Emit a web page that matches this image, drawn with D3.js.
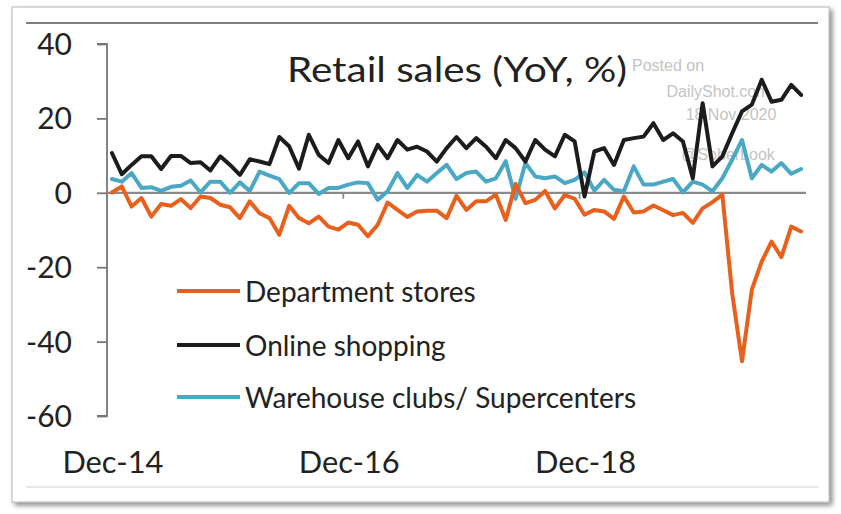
<!DOCTYPE html>
<html>
<head>
<meta charset="utf-8">
<script src="https://cdn.jsdelivr.net/npm/d3@7"></script>
<style>
  html, body { margin: 0; padding: 0; background: #ffffff; }
  svg { display: block; }
  text { font-family: Lato, "Open Sans", "DejaVu Sans", sans-serif; }
</style>
</head>
<body>
<svg id="chart" width="841" height="514"></svg>
<script>
// ---- data (monthly, Dec-14 .. Oct-20) ----
const monthNames = ["Jan","Feb","Mar","Apr","May","Jun","Jul","Aug","Sep","Oct","Nov","Dec"];
const months = [];
for (let k = 0; k < 71; k++) {
  const m = (11 + k) % 12, yr = 14 + Math.floor((11 + k) / 12);
  months.push(monthNames[m] + "-" + yr);
}
const departmentStores = [
  0.1, 1.7, -3.7, -1.4, -6.4, -3.0, -3.5, -1.7, -4.1, -1.0,
  -1.4, -3.2, -3.9, -6.8, -2.3, -5.5, -6.8, -11.3, -3.5, -6.8,
  -8.2, -6.4, -9.1, -9.9, -8.0, -8.6, -11.7, -8.6, -2.6, -4.6,
  -6.5, -5.0, -4.8, -4.8, -6.8, -0.8, -4.6, -2.3, -2.3, -0.5,
  -7.3, 2.4, -2.8, -1.9, 0.5, -4.2, -0.6, -1.6, -5.9, -4.6,
  -5.0, -7.0, -1.0, -5.3, -5.0, -3.4, -4.7, -6.0, -5.4, -8.1,
  -4.2, -2.5, -0.5, -27.0, -45.3, -26.0, -18.5, -13.1, -17.3, -9.1,
  -10.4
];
const onlineShopping = [
  10.7, 5.0, 7.5, 9.8, 9.8, 6.4, 9.9, 9.9, 8.0, 8.2,
  6.0, 9.8, 7.5, 4.8, 9.0, 8.4, 7.7, 15.0, 12.5, 6.5,
  15.6, 10.2, 8.0, 14.2, 9.3, 13.8, 7.1, 12.9, 9.3, 14.2,
  11.6, 12.4, 11.1, 8.4, 12.0, 15.0, 12.0, 14.7, 12.4, 9.3,
  14.2, 12.0, 8.4, 14.2, 11.6, 9.8, 15.6, 13.8, -1.0, 11.1,
  12.0, 7.5, 14.2, 14.7, 15.1, 18.7, 14.2, 16.0, 13.8, 3.9,
  24.1, 7.1, 9.8, 16.0, 21.9, 23.7, 30.4, 24.5, 25.0, 29.0,
  26.3
];
const warehouseClubs = [
  3.7, 3.0, 5.3, 1.3, 1.5, 0.5, 1.6, 1.9, 3.3, 0.1,
  3.0, 3.0, 0.0, 2.8, 0.5, 5.7, 4.6, 3.7, -0.1, 2.6,
  2.6, -0.3, 1.3, 1.3, 2.2, 2.8, 2.6, -1.9, 0.4, 5.3,
  1.3, 4.8, 3.0, 5.3, 7.5, 3.7, 5.3, 5.7, 3.0, 3.9,
  8.5, -1.6, 8.0, 4.4, 3.9, 4.4, 2.6, 3.5, 5.5, 0.6,
  3.5, 0.8, 0.4, 7.1, 2.2, 2.2, 3.0, 3.7, 0.1, 3.0,
  2.2, 0.4, 3.9, 8.9, 14.2, 3.9, 7.5, 5.7, 8.0, 5.1,
  6.4
];
const seriesNames = ["Department stores", "Online shopping", "Warehouse clubs/ Supercenters"];
const seriesColors = ["#e8601c", "#1c1c1c", "#4aa8c4"];
const yTicks = [40, 20, 0, -20, -40, -60];
const xLabels = ["Dec-14", "Dec-16", "Dec-18"];
const titleText = "Retail sales (YoY, %)";
const watermark = ["Posted on", "DailyShot.com", "18 Nov 2020", "@SoberLook"];

// ---- drawing ----
const svg = d3.select("#chart");
const defs = svg.append("defs");
const f = defs.append("filter").attr("id", "shadow").attr("x", "-5%").attr("y", "-5%").attr("width", "112%").attr("height", "115%");
f.append("feDropShadow").attr("dx", 3).attr("dy", 3).attr("stdDeviation", 2.5).attr("flood-color", "#000").attr("flood-opacity", 0.45);

// card
svg.append("rect").attr("x", 12).attr("y", 7).attr("width", 817).attr("height", 495)
  .attr("fill", "#fff").attr("stroke", "#b5b5b5").attr("stroke-width", 1).attr("filter", "url(#shadow)");
svg.append("line").attr("x1", 26).attr("x2", 818).attr("y1", 23).attr("y2", 23)
  .attr("stroke", "#555").attr("stroke-width", 1.5);
svg.append("line").attr("x1", 26).attr("x2", 818).attr("y1", 487).attr("y2", 487)
  .attr("stroke", "#d0d0d0").attr("stroke-width", 1);

const x = d3.scaleBand().domain(months).range([107, 806]);
const px = d => x(d) + x.bandwidth() / 2;
const y = d3.scaleLinear().domain([-60, 40]).range([416, 44]);

// watermark
const wm = svg.append("g").attr("fill", "#c4c4c4").attr("font-size", 16);
const wmPos = [[668, 71], [718, 97], [731, 120], [728, 160]];
watermark.forEach((t, i) => {
  wm.append("text").attr("x", wmPos[i][0]).attr("y", wmPos[i][1]).attr("text-anchor", "middle")
    .style("font-family", "'Liberation Sans', Arial, sans-serif").text(t);
});

// y axis
const yAxis = d3.axisLeft(y).tickValues(yTicks).tickSize(10).tickPadding(25).tickFormat(d => String(d));
const gy = svg.append("g").attr("transform", "translate(107,0)").call(yAxis);
gy.select(".domain").attr("stroke", "#777").attr("stroke-width", 1.8).attr("d", "M-10,44H0V416H-10");
gy.selectAll(".tick line").attr("stroke", "#777").attr("stroke-width", 1.8);
gy.selectAll(".tick text").attr("fill", "#222").attr("font-size", 30).attr("dy", "0.35em")
  .style("font-family", "Lato, sans-serif");

// zero axis with ticks
const xAxis = d3.axisBottom(x).tickValues(["Dec-16", "Dec-18"]).tickSize(6).tickFormat("");
const gx = svg.append("g").attr("transform", `translate(${-x.bandwidth() / 2},${y(0)})`).call(xAxis);
gx.select(".domain").attr("stroke", "#8a8a8a").attr("stroke-width", 2.2)
  .attr("d", `M${107 + x.bandwidth() / 2},0H${806 + x.bandwidth() / 2}`);
gx.selectAll(".tick line").attr("stroke", "#8a8a8a").attr("stroke-width", 1.8);

// x labels
svg.append("g").selectAll("text").data(xLabels).join("text")
  .attr("x", d => px(d) + 1).attr("y", 473).attr("text-anchor", "middle")
  .attr("fill", "#222").attr("font-size", 30)
  .attr("textLength", 101).attr("lengthAdjust", "spacingAndGlyphs").text(d => d);

// lines
const allSeries = [departmentStores, onlineShopping, warehouseClubs];
const line = d3.line().x((d, i) => px(months[i])).y(d => y(d)).curve(d3.curveLinear);
[2, 0, 1].forEach(k => {
  svg.append("path").datum(allSeries[k]).attr("d", line).attr("fill", "none")
    .attr("stroke", seriesColors[k]).attr("stroke-width", 4).attr("stroke-linejoin", "round").attr("stroke-linecap", "round");
});

// title
svg.append("text").attr("x", 287).attr("y", 82)
  .attr("fill", "#222").attr("font-size", 35)
  .attr("textLength", 340).attr("lengthAdjust", "spacingAndGlyphs").text(titleText);

// legend
const legY = [291, 345, 397];
const lg = svg.append("g");
seriesNames.forEach((n, i) => {
  lg.append("line").attr("x1", 177).attr("x2", 240).attr("y1", legY[i]).attr("y2", legY[i])
    .attr("stroke", seriesColors[i]).attr("stroke-width", 4);
  lg.append("text").attr("x", 245).attr("y", legY[i] + 11).attr("fill", "#222").attr("font-size", 28).text(n);
});
</script>
</body>
</html>
